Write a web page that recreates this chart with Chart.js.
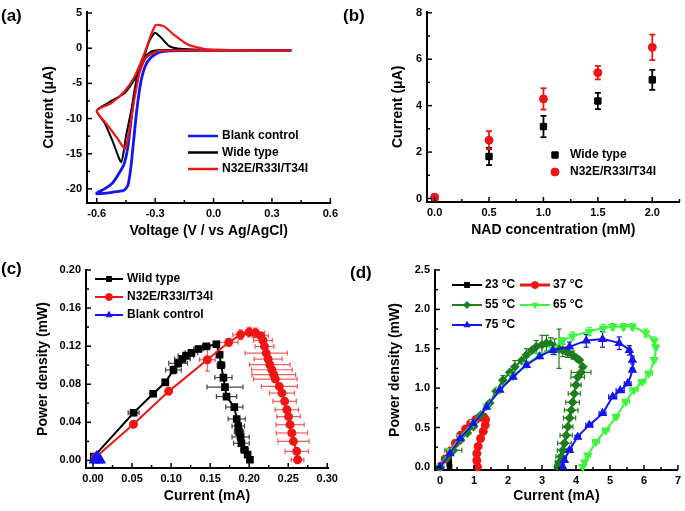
<!DOCTYPE html>
<html>
<head>
<meta charset="utf-8">
<script src="https://cdn.jsdelivr.net/npm/chart.js@4.4.0/dist/chart.umd.min.js"></script>
<style>
  body { margin: 0; background: #fff; width: 685px; height: 511px; position: relative; overflow: hidden;
         font-family: "Liberation Sans", Arial, sans-serif; }
  canvas { position: absolute; }
  .lab { position: absolute; font-weight: bold; font-size: 17px; line-height: 20px; }
</style>
</head>
<body>
<canvas id="cA" width="342" height="250" style="left:0;top:0"></canvas>
<canvas id="cB" width="343" height="250" style="left:342px;top:0"></canvas>
<canvas id="cC" width="342" height="261" style="left:0;top:250px"></canvas>
<canvas id="cD" width="343" height="261" style="left:342px;top:250px"></canvas>
<div class="lab" style="left:1px;top:6px">(a)</div>
<div class="lab" style="left:343px;top:6px">(b)</div>
<div class="lab" style="left:1px;top:259px">(c)</div>
<div class="lab" style="left:350px;top:263px">(d)</div>
<script>
// (a) cyclic voltammetry
const cvBlankX = [0.40, 0.20, 0.00, -0.20, -0.28, -0.32, -0.35, -0.375, -0.395, -0.41, -0.425, -0.44, -0.46, -0.50, -0.55, -0.60, -0.60, -0.56, -0.52, -0.49, -0.46, -0.44, -0.425, -0.41, -0.39, -0.37, -0.34, -0.30, -0.25, -0.10, 0.00];
const cvBlankY = [-0.3, -0.3, -0.3, -0.35, -0.6, -1.3, -2.5, -5.0, -9.0, -13.0, -17.0, -19.5, -20.2, -20.4, -20.6, -20.7, -20.6, -20.0, -19.2, -18.0, -16.5, -14.0, -10.5, -7.0, -4.0, -2.2, -1.1, -0.6, -0.4, -0.3, -0.3];
const cvWildX = [0.40, 0.20, 0.00, -0.10, -0.20, -0.27, -0.313, -0.356, -0.39, -0.415, -0.449, -0.474, -0.517, -0.56, -0.60, -0.543, -0.458, -0.407, -0.364, -0.33, -0.301, -0.27, -0.228, -0.186, -0.10, 0.00, 0.20, 0.40];
const cvWildY = [-0.3, -0.3, -0.3, -0.3, -0.25, -0.25, -0.4, -1.3, -4.1, -7.8, -12.4, -16.2, -13.3, -10.6, -8.9, -7.8, -6.4, -4.5, -1.8, 1.0, 2.2, 1.5, 0.3, -0.05, -0.2, -0.25, -0.3, -0.3];
const cvMutX = [0.40, 0.20, 0.00, -0.10, -0.20, -0.27, -0.305, -0.347, -0.381, -0.407, -0.432, -0.454, -0.492, -0.543, -0.60, -0.525, -0.458, -0.407, -0.356, -0.321, -0.296, -0.254, -0.203, -0.135, -0.05, 0.00, 0.20, 0.40];
const cvMutY = [-0.3, -0.3, -0.3, -0.3, -0.3, -0.35, -0.6, -1.3, -3.6, -7.3, -11.5, -14.3, -12.9, -11.0, -8.9, -7.8, -6.15, -4.1, -0.8, 1.9, 3.3, 3.1, 1.9, 0.55, -0.1, -0.2, -0.3, -0.3];

// (b) current vs NAD concentration
const nadConc = [0, 0.5, 1.0, 1.5, 2.0];
const nadWild = [0.05, 1.81, 3.10, 4.20, 5.11];
const nadWildErr = [0, 0.37, 0.46, 0.35, 0.43];
const nadMut = [0.05, 2.51, 4.29, 5.42, 6.51];
const nadMutErr = [0, 0.39, 0.46, 0.29, 0.55];

// (c) power curves
const pcWildX = [0.001, 0.052, 0.077, 0.0926, 0.103, 0.109, 0.1145, 0.119, 0.126, 0.135, 0.145, 0.158, 0.162, 0.164, 0.167, 0.169, 0.171, 0.181, 0.184, 0.186, 0.187, 0.189, 0.190, 0.194, 0.198, 0.201];
const pcWildY = [0.004, 0.050, 0.070, 0.082, 0.095, 0.102, 0.1065, 0.110, 0.113, 0.117, 0.1197, 0.122, 0.111, 0.100, 0.087, 0.077, 0.067, 0.056, 0.0435, 0.036, 0.030, 0.0246, 0.018, 0.011, 0.006, 0.0007];
const pcWildErrX = [0, 0.007, 0.003, 0.004, 0.010, 0.012, 0.010, 0.010, 0.008, 0.006, 0.005, 0.003, 0.004, 0.005, 0.011, 0.023, 0.013, 0.011, 0.011, 0.008, 0.006, 0.011, 0.010, 0.005, 0.003, 0.002];
const pcWildErrY = [0, 0.003, 0.003, 0.003, 0.004, 0.004, 0.003, 0.003, 0.003, 0.003, 0.003, 0.003, 0, 0, 0, 0, 0, 0, 0, 0, 0, 0, 0, 0, 0, 0];
const pcMutX = [0.003, 0.0518, 0.0968, 0.1464, 0.1738, 0.189, 0.200, 0.208, 0.2146, 0.2176, 0.2196, 0.2218, 0.2243, 0.2264, 0.229, 0.2315, 0.2335, 0.2386, 0.242, 0.2454, 0.2483, 0.2504, 0.2524, 0.2546, 0.2567, 0.2609, 0.262];
const pcMutY = [0.003, 0.038, 0.0725, 0.1057, 0.124, 0.132, 0.1348, 0.134, 0.131, 0.126, 0.1197, 0.1127, 0.1064, 0.1005, 0.0952, 0.090, 0.0854, 0.0777, 0.0707, 0.062, 0.0532, 0.046, 0.0375, 0.0288, 0.020, 0.0095, 0.0007];
const pcMutErrX = [0, 0.002, 0.002, 0.010, 0.012, 0.010, 0.012, 0.012, 0.010, 0.012, 0.012, 0.027, 0.018, 0.026, 0.026, 0.028, 0.028, 0.023, 0.016, 0.015, 0.015, 0.015, 0.018, 0.020, 0.020, 0.015, 0.008];
const pcMutErrY = [0, 0.002, 0.002, 0.012, 0.004, 0.005, 0.005, 0.005, 0.003, 0, 0, 0, 0, 0, 0, 0, 0, 0, 0, 0, 0, 0, 0, 0, 0, 0, 0];
const pcBlankX = [0.001, 0.003, 0.005, 0.007, 0.009, 0.010, 0.006];
const pcBlankY = [0.000, 0.003, 0.005, 0.003, 0.001, 0.000, 0.000];

// (d) power curves at different temperatures
const t23X = [0.28, 0.27, 0.27, 0.26];
const t23Y = [0.00, 0.04, 0.08, 0.11];
const t37X = [0.00, 0.15, 0.30, 0.45, 0.60, 0.75, 0.90, 1.05, 1.18, 1.28, 1.34, 1.33, 1.27, 1.19, 1.12, 1.08, 1.08, 1.10];
const t37Y = [0.00, 0.10, 0.20, 0.30, 0.40, 0.48, 0.55, 0.60, 0.63, 0.635, 0.60, 0.53, 0.45, 0.36, 0.26, 0.17, 0.08, 0.00];
const t55X = [0.00, 0.20, 0.39, 0.60, 0.80, 0.98, 1.20, 1.46, 1.65, 1.85, 2.05, 2.20, 2.40, 2.54, 2.70, 2.83, 3.00, 3.13, 3.25, 3.37, 3.50, 3.61, 3.75, 3.90, 4.02, 4.10, 4.20, 4.15, 4.05, 4.00, 3.95, 3.90, 3.86, 3.81, 3.76, 3.71, 3.66, 3.61, 3.56, 3.51, 3.47];
const t55Y = [0.00, 0.11, 0.21, 0.34, 0.43, 0.51, 0.66, 0.81, 0.96, 1.10, 1.20, 1.27, 1.35, 1.42, 1.48, 1.525, 1.55, 1.57, 1.56, 1.525, 1.50, 1.48, 1.45, 1.42, 1.38, 1.356, 1.27, 1.20, 1.14, 1.04, 0.93, 0.82, 0.72, 0.62, 0.51, 0.40, 0.30, 0.21, 0.13, 0.06, 0.00];
const t55ErrX = [0, 0, 0.25, 0, 0, 0, 0, 0, 0, 0, 0, 0, 0, 0, 0, 0, 0, 0, 0, 0, 0, 0, 0, 0, 0, 0, 0, 0.29, 0.20, 0.15, 0.18, 0.20, 0.20, 0.18, 0.15, 0.18, 0.20, 0.16, 0.15, 0.12, 0.10];
const t55ErrY = [0, 0, 0, 0, 0, 0, 0, 0, 0, 0.06, 0, 0.08, 0, 0.08, 0, 0.08, 0.12, 0.10, 0.08, 0.10, 0.25, 0.08, 0.06, 0.05, 0, 0, 0, 0, 0, 0, 0, 0, 0, 0, 0, 0, 0, 0, 0, 0, 0];
const t65X = [0.00, 0.30, 0.60, 0.98, 1.37, 1.76, 2.15, 2.54, 2.93, 3.32, 3.60, 3.90, 4.39, 4.80, 5.08, 5.40, 5.66, 6.05, 6.30, 6.35, 6.30, 6.15, 5.95, 5.71, 5.47, 5.18, 4.88, 4.59, 4.35, 4.25, 4.20];
const t65Y = [0.00, 0.20, 0.38, 0.56, 0.77, 0.98, 1.15, 1.30, 1.42, 1.50, 1.60, 1.66, 1.72, 1.76, 1.78, 1.78, 1.78, 1.70, 1.60, 1.52, 1.36, 1.19, 1.08, 0.975, 0.83, 0.635, 0.466, 0.318, 0.148, 0.06, 0.00];
const t65ErrX = [0, 0, 0, 0, 0, 0, 0, 0, 0, 0, 0, 0, 0, 0, 0, 0, 0, 0, 0, 0.05, 0.05, 0.10, 0.10, 0.12, 0.10, 0.08, 0.10, 0.10, 0.08, 0.06, 0.05];
const t65ErrY = [0, 0, 0, 0, 0, 0, 0, 0, 0, 0, 0.04, 0.05, 0.05, 0.05, 0.04, 0.04, 0.04, 0.05, 0.05, 0, 0, 0, 0, 0, 0, 0, 0, 0, 0, 0, 0];
const t75X = [0.00, 0.29, 0.59, 0.98, 1.37, 1.76, 2.15, 2.54, 2.93, 3.32, 3.81, 4.30, 4.78, 5.27, 5.57, 5.66, 5.66, 5.52, 5.30, 5.08, 4.78, 4.39, 4.05, 3.81, 3.66, 3.61];
const t75Y = [0.00, 0.17, 0.36, 0.55, 0.76, 0.975, 1.14, 1.29, 1.40, 1.48, 1.525, 1.60, 1.62, 1.57, 1.48, 1.356, 1.23, 1.06, 0.97, 0.89, 0.68, 0.53, 0.38, 0.21, 0.085, 0.00];
const t75ErrX = [0, 0, 0, 0, 0, 0, 0, 0, 0, 0, 0, 0, 0, 0, 0.05, 0.05, 0.06, 0.10, 0.12, 0.12, 0.10, 0.10, 0.08, 0.08, 0.06, 0.05];
const t75ErrY = [0, 0, 0, 0, 0, 0, 0, 0, 0, 0.05, 0.06, 0.08, 0.10, 0.08, 0.06, 0.05, 0, 0, 0, 0, 0, 0, 0, 0, 0, 0];

const FONT = '"Liberation Sans", Arial, sans-serif';
Chart.defaults.font.family = FONT;
Chart.defaults.font.weight = 'bold';
Chart.defaults.color = '#000';

const pts = (xs, ys) => xs.map((x, i) => ({ x: x, y: ys[i] }));

function seg(ctx, x1, y1, x2, y2) {
  ctx.beginPath(); ctx.moveTo(x1, y1); ctx.lineTo(x2, y2); ctx.stroke();
}

// ticks pointing into the plot, with minor ticks
const inTicks = {
  id: 'inTicks',
  afterDatasetsDraw(chart, args, opts) {
    const ctx = chart.ctx, a = chart.chartArea;
    ctx.save();
    ctx.strokeStyle = '#000';
    ctx.lineWidth = 1.5;
    ['x', 'y'].forEach(k => {
      const s = chart.scales[k];
      const minor = opts[k];
      const major = s.ticks.map(t => t.value);
      const marks = major.map(v => [v, 5]);
      const n0 = Math.ceil(s.min / minor), n1 = Math.floor(s.max / minor);
      for (let n = n0; n <= n1; n++) {
        const v = n * minor;
        if (!major.some(m => Math.abs(m - v) < minor / 10)) marks.push([v, 3]);
      }
      marks.forEach(([v, len]) => {
        const p = s.getPixelForValue(v);
        if (k === 'x') seg(ctx, p, a.bottom, p, a.bottom - len);
        else seg(ctx, a.left, p, a.left + len, p);
      });
    });
    ctx.restore();
  }
};

// error bars from errX / errY arrays on the datasets
const errBars = {
  id: 'errBars',
  beforeDatasetsDraw(chart) {
    const ctx = chart.ctx, xs = chart.scales.x, ys = chart.scales.y;
    chart.data.datasets.forEach(ds => {
      if (!ds.errX && !ds.errY) return;
      ctx.save();
      ctx.strokeStyle = ds.errColor || ds.borderColor;
      ctx.lineWidth = ds.errWidth || 1.2;
      const cap = ds.errCap || 2.5;
      ds.data.forEach((p, i) => {
        const px = xs.getPixelForValue(p.x), py = ys.getPixelForValue(p.y);
        const ex = ds.errX ? ds.errX[i] : 0, ey = ds.errY ? ds.errY[i] : 0;
        if (ex) {
          const l = xs.getPixelForValue(p.x - ex), r = xs.getPixelForValue(p.x + ex);
          seg(ctx, l, py, r, py); seg(ctx, l, py - cap, l, py + cap); seg(ctx, r, py - cap, r, py + cap);
        }
        if (ey) {
          const t = ys.getPixelForValue(p.y + ey), b = ys.getPixelForValue(p.y - ey);
          seg(ctx, px, t, px, b); seg(ctx, px - cap, t, px + cap, t); seg(ctx, px - cap, b, px + cap, b);
        }
      });
      ctx.restore();
    });
  }
};

// legend drawn inside the plot
const boxLegend = {
  id: 'boxLegend',
  afterDraw(chart, args, o) {
    if (!o.items) return;
    const ctx = chart.ctx;
    ctx.save();
    ctx.font = 'bold 12px ' + FONT;
    ctx.textBaseline = 'middle';
    o.items.forEach(it => {
      const ds = chart.data.datasets[it.ds];
      if (o.line) {
        ctx.strokeStyle = ds.borderColor;
        ctx.lineWidth = o.lineWidth || ds.borderWidth;
        seg(ctx, it.x, it.y, it.x + o.line, it.y);
      }
      if (o.marker) {
        ctx.fillStyle = ds.pointBackgroundColor;
        ctx.strokeStyle = ds.borderColor;
        ctx.lineWidth = 1;
        Chart.helpers.drawPoint(ctx, { pointStyle: ds.pointStyle, rotation: ds.pointRotation || 0,
          radius: o.markerR || ds.pointRadius, borderWidth: 1 }, it.x + o.line / 2, it.y);
      }
      ctx.fillStyle = '#000';
      ctx.fillText(ds.label, it.x + o.textOff, it.y);
    });
    ctx.restore();
  }
};

function axis(o) {
  return {
    type: 'linear',
    min: o.min, max: o.max,
    grid: { display: false, drawTicks: false },
    border: { display: true, color: '#000', width: 2 },
    ticks: { stepSize: o.step, includeBounds: false, padding: o.pad, font: { size: 11, weight: 'bold' },
             maxRotation: 0, autoSkip: false, callback: v => Number(v).toFixed(o.dec) },
    title: { display: true, text: o.title, font: { size: 14, weight: 'bold' }, padding: o.tpad },
    afterFit: s => { if (o.w !== undefined) s.width = o.w; if (o.h !== undefined) s.height = o.h; }
  };
}

function make(id, datasets, cfg) {
  // later series are painted over earlier ones, as in the original figure
  datasets.forEach((d, i) => { d.order = -i; });
  return new Chart(document.getElementById(id), {
    type: 'scatter',
    data: { datasets: datasets },
    options: {
      responsive: false, animation: false, devicePixelRatio: 1,
      layout: { padding: cfg.padding },
      scales: { x: axis(cfg.x), y: axis(cfg.y) },
      plugins: { legend: { display: false }, tooltip: { enabled: false },
                 inTicks: cfg.minor, boxLegend: cfg.legend }
    },
    plugins: [errBars, inTicks, boxLegend]
  });
}

function curve(label, xs, ys, color, width, extra) {
  return Object.assign({ label: label, data: pts(xs, ys), showLine: true, borderColor: color,
    backgroundColor: color, pointBackgroundColor: color, borderWidth: width, pointRadius: 0,
    tension: 0.2, clip: false }, extra || {});
}

// (a)
make('cA', [
  curve('Blank control', cvBlankX, cvBlankY, '#1515f0', 2.8),
  curve('Wide type', cvWildX, cvWildY, '#000000', 2),
  curve('N32E/R33I/T34I', cvMutX, cvMutY, '#f01515', 2.2)
], {
  padding: { left: 36, right: 9, top: 7, bottom: 10 },
  x: { min: -0.65, max: 0.6, step: 0.3, dec: 1, pad: 4, title: 'Voltage (V / vs Ag/AgCl)', tpad: { top: 0, bottom: 0 }, h: 37 },
  y: { min: -22, max: 5.2, step: 5, dec: 0, pad: 5, title: 'Current (\u03bcA)', tpad: { top: 5, bottom: 0 }, w: 51 },
  minor: { x: 0.15, y: 2.5 },
  legend: { line: 30, lineWidth: 2.5, textOff: 34, items: [
    { ds: 0, x: 188, y: 136 }, { ds: 1, x: 188, y: 152.5 }, { ds: 2, x: 188, y: 169 }] }
});

// (b)
make('cB', [
  { label: 'Wide type', data: pts(nadConc, nadWild), errY: nadWildErr, errCap: 3, errWidth: 1.8,
    borderColor: '#000', backgroundColor: '#000', pointBackgroundColor: '#000', pointStyle: 'rect', pointRadius: 4.5, clip: false },
  { label: 'N32E/R33I/T34I', data: pts(nadConc, nadMut), errY: nadMutErr, errCap: 3, errWidth: 1.8,
    borderColor: '#f01515', backgroundColor: '#f01515', pointBackgroundColor: '#f01515', pointStyle: 'circle', pointRadius: 4, clip: false }
], {
  padding: { left: 40, right: 5, top: 7, bottom: 10 },
  x: { min: -0.07, max: 2.25, step: 0.5, dec: 1, pad: 4, title: 'NAD concentration (mM)', tpad: { top: 0, bottom: 1 }, h: 38 },
  y: { min: -0.15, max: 8.05, step: 2, dec: 0, pad: 5, title: 'Current (\u03bcA)', tpad: { top: 8, bottom: 0 }, w: 45 },
  minor: { x: 0.25, y: 1 },
  legend: { line: 0, marker: true, textOff: 15, items: [
    { ds: 0, x: 213, y: 155 }, { ds: 1, x: 213, y: 172 }] }
});

// (c)
make('cC', [
  curve('Wild type', pcWildX, pcWildY, '#000000', 2, { pointStyle: 'rect', pointRadius: 4, tension: 0,
    errX: pcWildErrX, errY: pcWildErrY, errColor: '#444' }),
  curve('N32E/R33I/T34I', pcMutX, pcMutY, '#f01515', 2, { pointStyle: 'circle', pointRadius: 3.5, tension: 0,
    errX: pcMutErrX, errY: pcMutErrY, errColor: 'rgba(240,40,40,0.75)' }),
  curve('Blank control', pcBlankX, pcBlankY, '#1515f0', 2, { pointStyle: 'triangle', pointRadius: 4, tension: 0 })
], {
  padding: { left: 30, right: 10, top: 20, bottom: 6 },
  x: { min: -0.009, max: 0.301, step: 0.05, dec: 2, pad: 4, title: 'Current (mA)', tpad: { top: 0, bottom: 0 }, h: 37 },
  y: { min: -0.008, max: 0.2, step: 0.04, dec: 2, pad: 5, title: 'Power density (mW)', tpad: { top: 4.5, bottom: 0 }, w: 56 },
  minor: { x: 0.025, y: 0.02 },
  legend: { line: 28, marker: true, markerR: 3.5, textOff: 32, items: [
    { ds: 0, x: 95, y: 29 }, { ds: 1, x: 95, y: 47 }, { ds: 2, x: 95, y: 65 }] }
});

// (d)
make('cD', [
  curve('23 \u00b0C', t23X, t23Y, '#000000', 2, { pointStyle: 'rect', pointRadius: 2.5 }),
  curve('37 \u00b0C', t37X, t37Y, '#f01515', 3, { pointStyle: 'circle', pointRadius: 3 }),
  curve('55 \u00b0C', t55X, t55Y, '#1e7d1e', 2, { pointStyle: 'rectRot', pointRadius: 3.5,
    errX: t55ErrX, errY: t55ErrY }),
  curve('65 \u00b0C', t65X, t65Y, '#3cf53c', 2, { pointStyle: 'triangle', pointRotation: 180, pointRadius: 3.5,
    errX: t65ErrX, errY: t65ErrY }),
  curve('75 \u00b0C', t75X, t75Y, '#1515f0', 2, { pointStyle: 'triangle', pointRadius: 3.5,
    errX: t75ErrX, errY: t75ErrY })
], {
  padding: { left: 40, right: 5, top: 20, bottom: 6 },
  x: { min: -0.15, max: 7, step: 1, dec: 0, pad: 4, title: 'Current (mA)', tpad: { top: 0, bottom: 0 }, h: 35 },
  y: { min: -0.04, max: 2.5, step: 0.5, dec: 1, pad: 5, title: 'Power density (mW)', tpad: { top: 4.5, bottom: 0 }, w: 53 },
  minor: { x: 0.5, y: 0.25 },
  legend: { line: 30, marker: true, markerR: 3.5, textOff: 33, items: [
    { ds: 0, x: 110, y: 35 }, { ds: 1, x: 178, y: 35 }, { ds: 2, x: 110, y: 55 },
    { ds: 3, x: 178, y: 55 }, { ds: 4, x: 110, y: 75 }] }
});
</script>
</body>
</html>
